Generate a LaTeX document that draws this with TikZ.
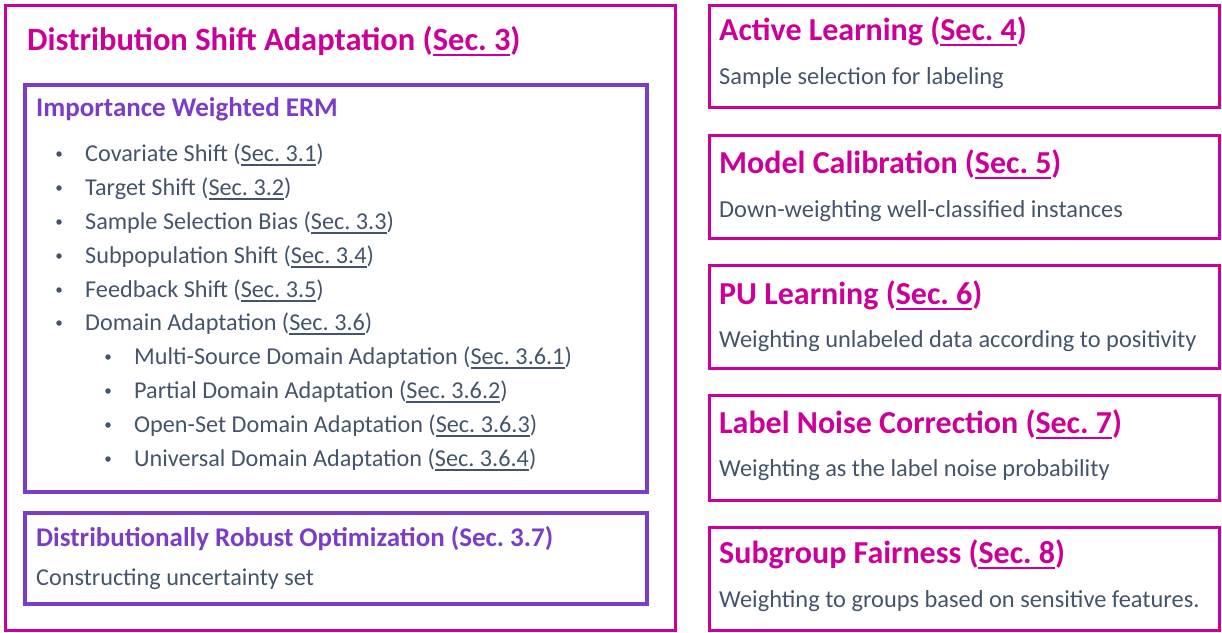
\documentclass[tikz,border=0pt]{standalone}
\usepackage{fontspec}
\setmainfont{Carlito}
\definecolor{mag}{HTML}{CC0099}
\definecolor{pur}{HTML}{7B3CC8}
\definecolor{txt}{HTML}{44546A}
\newcommand{\secref}[1]{\leavevmode\vtop{\hbox{#1}\kern0.09em\hrule height 0.065em}}
\begin{document}
\begin{tikzpicture}[x=1pt,y=-1pt,
  magbox/.style={draw=mag,line width=3pt,inner sep=0pt},
  purbox/.style={draw=pur,line width=3.5pt,inner sep=0pt},
  bigtitle/.style={anchor=west,inner sep=0pt,text=mag,font=\fontsize{32.5}{38}\selectfont\bfseries},
  sidetitle/.style={anchor=west,inner sep=0pt,text=mag,font=\fontsize{32}{38}\selectfont\bfseries},
  purtitle/.style={anchor=west,inner sep=0pt,text=pur,font=\fontsize{27}{32}\selectfont\bfseries},
  body/.style={anchor=west,inner sep=0pt,text=txt,font=\fontsize{24.2}{29}\selectfont},
  sbody/.style={anchor=west,inner sep=0pt,text=txt,font=\fontsize{24.4}{29}\selectfont},
  bul/.style={circle,fill=txt,inner sep=0pt,minimum size=5.5pt}]
\useasboundingbox (0,0) rectangle (1222,632);
% boxes
\node[magbox,minimum width=670pt,minimum height=625pt] (dsa) at (340,317.5) {};
\node[purbox,minimum width=622pt,minimum height=407pt] (iw) at (336,288.5) {};
\node[purbox,minimum width=622pt,minimum height=91pt] (dro) at (336,558.5) {};
\node[magbox,minimum width=510pt,minimum height=102pt] (al) at (964,56) {};
\node[magbox,minimum width=510pt,minimum height=103pt] (mc) at (964,186.5) {};
\node[magbox,minimum width=510pt,minimum height=103pt] (pu) at (964,316.5) {};
\node[magbox,minimum width=510pt,minimum height=105pt] (ln) at (964,447.5) {};
\node[magbox,minimum width=510pt,minimum height=103pt] (sf) at (964,578.5) {};
% left texts
\node[bigtitle] (dsat) at (27,41.5) {Distribution Shift Adaptation (\secref{Sec.\ 3})};
\node[purtitle] (iwt) at (36,109) {Importance Weighted ERM};
\node[body] (i1) at (85,155) {Covariate Shift (\secref{Sec.\ 3.1})};
\node[body] (i2) at (85,189) {Target Shift (\secref{Sec.\ 3.2})};
\node[body] (i3) at (85,223) {Sample Selection Bias (\secref{Sec.\ 3.3})};
\node[body] (i4) at (85,257) {Subpopulation Shift (\secref{Sec.\ 3.4})};
\node[body] (i5) at (85,291) {Feedback Shift (\secref{Sec.\ 3.5})};
\node[body] (i6) at (85,324) {Domain Adaptation (\secref{Sec.\ 3.6})};
\node[body] (j1) at (134,358) {Multi-Source Domain Adaptation (\secref{Sec.\ 3.6.1})};
\node[body] (j2) at (134,392) {Partial Domain Adaptation (\secref{Sec.\ 3.6.2})};
\node[body] (j3) at (134,426) {Open-Set Domain Adaptation (\secref{Sec.\ 3.6.3})};
\node[body] (j4) at (134,460) {Universal Domain Adaptation (\secref{Sec.\ 3.6.4})};
\foreach \n/\y in {b1/154,b2/188,b3/222,b4/256,b5/290,b6/323}
  \node[bul] (\n) at (59,\y) {};
\foreach \n/\y in {c1/357,c2/391,c3/425,c4/459}
  \node[bul] (\n) at (108,\y) {};
\node[purtitle] (drot) at (36,539) {Distributionally Robust Optimization (Sec.\ 3.7)};
\node[body] (dros) at (36,579) {Constructing uncertainty set};
% right texts
\node[sidetitle] (alt) at (719,31.5) {Active Learning (\secref{Sec.\ 4})};
\node[sbody] (als) at (719,78) {Sample selection for labeling};
\node[sidetitle] (mct) at (719,164.5) {Model Calibration (\secref{Sec.\ 5})};
\node[sbody] (mcs) at (719,211) {Down-weighting well-classified instances};
\node[sidetitle] (put) at (719,295.5) {PU Learning (\secref{Sec.\ 6})};
\node[sbody] (pus) at (719,341) {Weighting unlabeled data according to positivity};
\node[sidetitle] (lnt) at (719,424.5) {Label Noise Correction (\secref{Sec.\ 7})};
\node[sbody] (lns) at (719,470) {Weighting as the label noise probability};
\node[sidetitle] (sft) at (719,554.5) {Subgroup Fairness (\secref{Sec.\ 8})};
\node[sbody] (sfs) at (719,601) {Weighting to groups based on sensitive features.};
\end{tikzpicture}
\end{document}
